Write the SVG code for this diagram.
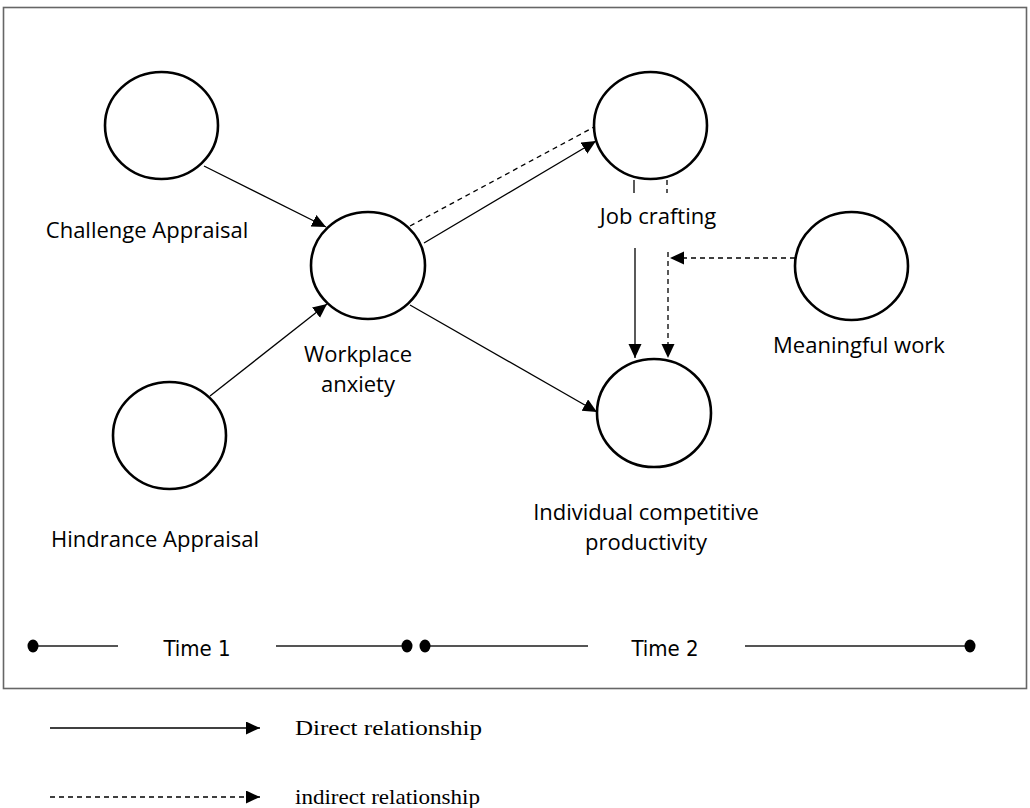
<svg xmlns="http://www.w3.org/2000/svg" width="1030" height="808" viewBox="0 0 1030 808">
<defs>
<marker id="ah" markerUnits="userSpaceOnUse" markerWidth="16" markerHeight="14" refX="14" refY="6.5" orient="auto">
<path d="M0,0 L14,6.5 L0,13 z" fill="#000"/>
</marker>
</defs>
<style>
.node{fill:#fff;stroke:#000;stroke-width:2.6}
.lbl{font-family:"Open Sans","Noto Sans",sans-serif;font-size:22px;fill:#000;text-anchor:middle}
.solid{stroke:#000;stroke-width:1.3;fill:none}
.dash{stroke:#000;stroke-width:1.3;fill:none;stroke-dasharray:5 4}
.tl{stroke:#555;stroke-width:2}
.tt{font-family:"DejaVu Sans Condensed","DejaVu Sans",sans-serif;font-stretch:condensed;font-size:22px;fill:#000;text-anchor:middle}
.leg{font-family:"Liberation Serif",serif;font-size:21px;fill:#000}
</style>
<rect x="3.5" y="7.5" width="1023" height="681" fill="#fff" stroke="#666" stroke-width="1.6"/>

<g id="connectors">
<line class="solid" x1="204" y1="166" x2="326" y2="227" marker-end="url(#ah)"/>
<line class="solid" x1="210" y1="396" x2="327" y2="304" marker-end="url(#ah)"/>
<line class="solid" x1="424" y1="243" x2="596" y2="141" marker-end="url(#ah)"/>
<line class="dash" x1="410" y1="226" x2="594" y2="127"/>
<line class="solid" x1="410" y1="305" x2="597" y2="412" marker-end="url(#ah)"/>
<line class="solid" x1="634" y1="180" x2="634" y2="193"/>
<line class="dash" x1="667" y1="180" x2="667" y2="193"/>
<line class="solid" x1="635" y1="248" x2="635" y2="358" marker-end="url(#ah)"/>
<line class="dash" x1="668" y1="252" x2="668" y2="358" marker-end="url(#ah)"/>
<line class="dash" x1="795" y1="258" x2="670" y2="258" marker-end="url(#ah)"/>
</g>

<g id="challenge">
<ellipse class="node" cx="161.5" cy="125.5" rx="56.5" ry="53.5"/>
<text class="lbl" x="147" y="238">Challenge Appraisal</text>
</g>
<g id="hindrance">
<ellipse class="node" cx="169.5" cy="435.5" rx="56.5" ry="53.5"/>
<text class="lbl" x="155" y="547">Hindrance Appraisal</text>
</g>
<g id="anxiety">
<ellipse class="node" cx="368" cy="265.5" rx="57" ry="53.5"/>
<text class="lbl" x="358" y="362">Workplace</text>
<text class="lbl" x="358" y="392">anxiety</text>
</g>
<g id="jobcrafting">
<ellipse class="node" cx="650.5" cy="125.5" rx="56.5" ry="53.5"/>
<text class="lbl" x="658" y="224">Job crafting</text>
</g>
<g id="meaningful">
<ellipse class="node" cx="851.5" cy="266" rx="56.5" ry="54"/>
<text class="lbl" x="859" y="353">Meaningful work</text>
</g>
<g id="productivity">
<ellipse class="node" cx="654" cy="413" rx="57" ry="54"/>
<text class="lbl" x="646" y="520">Individual competitive</text>
<text class="lbl" x="646" y="550">productivity</text>
</g>

<g id="timeline">
<line class="tl" x1="33" y1="646" x2="118" y2="646"/>
<line class="tl" x1="276" y1="646" x2="407" y2="646"/>
<line class="tl" x1="425" y1="646" x2="588" y2="646"/>
<line class="tl" x1="745" y1="646" x2="970" y2="646"/>
<ellipse cx="33" cy="646" rx="5.5" ry="6.5" fill="#000"/>
<ellipse cx="407" cy="646" rx="5.5" ry="6.5" fill="#000"/>
<ellipse cx="425" cy="646" rx="5.5" ry="6.5" fill="#000"/>
<ellipse cx="970" cy="646" rx="5.5" ry="6.5" fill="#000"/>
<text class="tt" x="197" y="656">Time 1</text>
<text class="tt" x="665" y="656">Time 2</text>
</g>

<g id="legend">
<line class="solid" x1="50" y1="728" x2="260" y2="728" marker-end="url(#ah)"/>
<text class="leg" x="295" y="735" textLength="187" lengthAdjust="spacingAndGlyphs">Direct relationship</text>
<line class="dash" x1="50" y1="797" x2="260" y2="797" marker-end="url(#ah)"/>
<text class="leg" x="295" y="804" textLength="185" lengthAdjust="spacingAndGlyphs">indirect relationship</text>
</g>
</svg>
